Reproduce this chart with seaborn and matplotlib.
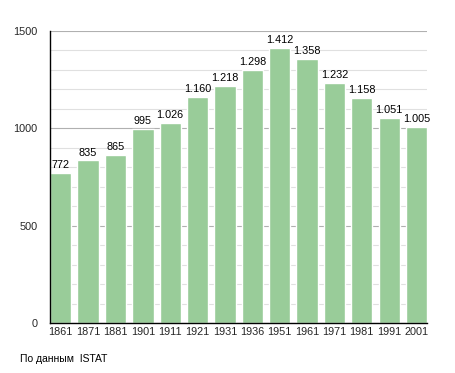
import pandas as pd
import seaborn as sns
import matplotlib.pyplot as plt
from matplotlib.ticker import MultipleLocator

years = ['1861', '1871', '1881', '1901', '1911', '1921', '1931',
         '1936', '1951', '1961', '1971', '1981', '1991', '2001']
population = [772, 835, 865, 995, 1026, 1160, 1218,
              1298, 1412, 1358, 1232, 1158, 1051, 1005]
value_labels = ['772', '835', '865', '995', '1.026', '1.160', '1.218',
                '1.298', '1.412', '1.358', '1.232', '1.158', '1.051', '1.005']

df = pd.DataFrame({'year': years, 'pop': population})

sns.set_style('white')
plt.rcParams['font.family'] = ['Liberation Sans', 'DejaVu Sans']

bar_w = 0.78
fig = plt.figure(figsize=(4.55, 3.73), dpi=100)
ax = fig.add_axes([0.11, 0.134, 0.829, 0.783])

sns.barplot(data=df, x='year', y='pop', color='#99cc99', saturation=1,
            width=bar_w, ax=ax, zorder=3)

ax.set_ylim(0, 1500)
ax.set_xlim(-bar_w / 2, len(years) - 1 + bar_w / 2)
ax.yaxis.set_major_locator(MultipleLocator(500))
ax.yaxis.set_minor_locator(MultipleLocator(100))
ax.grid(True, which='major', axis='y', color='#b0b0b0', linewidth=0.8, zorder=0)
ax.grid(True, which='minor', axis='y', color='#e0e0e0', linewidth=0.8, zorder=0)
ax.tick_params(axis='y', which='major', length=0, labelsize=7.8, pad=9)
ax.tick_params(axis='y', which='minor', length=3, width=0.8, color='black', direction='out')
ax.tick_params(axis='x', length=0, labelsize=7.8, pad=3)
ax.set_xlabel('')
ax.set_ylabel('')

for s in ['top', 'right']:
    ax.spines[s].set_visible(False)
for s in ['left', 'bottom']:
    ax.spines[s].set_color('black')
    ax.spines[s].set_linewidth(1.0)
    ax.spines[s].set_zorder(4)

for i, (v, lab) in enumerate(zip(population, value_labels)):
    ax.text(i, v + 15, lab, ha='center', va='bottom', fontsize=7.8, color='black')

fig.text(0.044, 0.03, 'По данным  ISTAT', fontsize=7.5, color='black')

fig.savefig('out.png', dpi=100)
